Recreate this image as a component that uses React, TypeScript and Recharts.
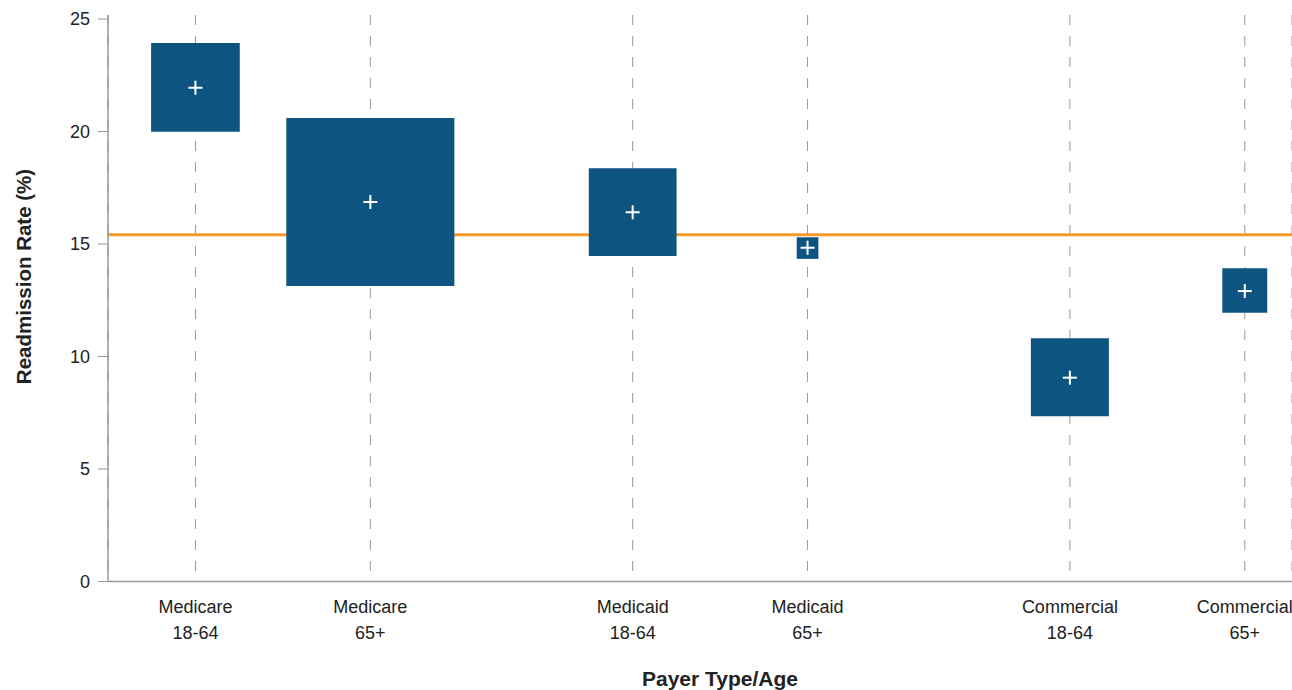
import React from "react";
import {
  ComposedChart, Scatter, XAxis, YAxis, CartesianGrid, ReferenceArea, ReferenceLine, Label
} from "recharts";

const payers = ["Medicare", "Medicare", "Medicaid", "Medicaid", "Commercial", "Commercial"];
const ages = ["18-64", "65+", "18-64", "65+", "18-64", "65+"];
const positions = [1, 2, 3.5, 4.5, 6, 7];
const means = [21.95, 16.87, 16.41, 14.83, 9.06, 12.91];
const lows = [19.99, 13.14, 14.47, 14.34, 7.35, 11.94];
const highs = [23.93, 20.6, 18.37, 15.3, 10.81, 13.92];
const boxWidths = [0.507, 0.961, 0.502, 0.124, 0.446, 0.257];
const overallRate = 15.41;
const yTicks = [0, 5, 10, 15, 20, 25];

const BOX = "#0d5480";
const ORANGE = "#f39a2b";
const FONT = "'Liberation Sans', Arial, Helvetica, sans-serif";

const meanPoints = positions.map((x, i) => ({ x, y: means[i] }));

const PayerTick = (props: any) => {
  const { x, y, payload } = props;
  const i = positions.indexOf(payload.value);
  if (i < 0) return null;
  return (
    <text x={x} y={y} textAnchor="middle" fontSize={18} fill="#222" fontFamily={FONT}>
      <tspan x={x} dy={31.5}>{payers[i]}</tspan>
      <tspan x={x} dy={26}>{ages[i]}</tspan>
    </text>
  );
};

const PlusMark = (props: any) => {
  const { cx, cy } = props;
  return (
    <g>
      <line x1={cx - 7} x2={cx + 7} y1={cy} y2={cy} stroke="#fff" strokeWidth={2} />
      <line x1={cx} x2={cx} y1={cy - 7} y2={cy + 7} stroke="#fff" strokeWidth={2} />
    </g>
  );
};

export default function App() {
  return (
    <div style={{ position: "absolute", left: 0, top: 0, background: "#fff" }}>
      <ComposedChart
        width={1292}
        height={690}
        data={meanPoints}
        margin={{ top: 15, right: 0, bottom: 38.5, left: 0 }}
        style={{ fontFamily: FONT }}
      >
        <CartesianGrid horizontal={false} stroke="#999" strokeDasharray="10 11" />
        <XAxis
          type="number"
          dataKey="x"
          domain={[0.5, 7.27]}
          ticks={positions}
          allowDataOverflow
          height={70}
          tickLine={false}
          tickSize={0}
          tickMargin={0}
          axisLine={{ stroke: "#999", strokeWidth: 1.5 }}
          tick={<PayerTick />}
          interval={0}
        >
          <Label
            content={(p: any) => (
              <text
                x={(p.viewBox?.x ?? 0) + (p.viewBox?.width ?? 0) / 2 + 20}
                y={686}
                textAnchor="middle"
                fontSize={21}
                fontWeight="bold"
                fill="#222"
                fontFamily={FONT}
              >
                Payer Type/Age
              </text>
            )}
          />
        </XAxis>
        <YAxis
          type="number"
          domain={[0, 25.18]}
          ticks={yTicks}
          allowDataOverflow
          width={108}
          tickSize={10}
          tickMargin={8}
          tickLine={{ stroke: "#999" }}
          axisLine={{ stroke: "#999", strokeWidth: 1.5 }}
          tick={{ fontSize: 18, fill: "#222", fontFamily: FONT }}
        >
          <Label
            content={() => (
              <text
                x={31}
                y={276.5}
                transform="rotate(-90 31 276.5)"
                textAnchor="middle"
                fontSize={20.5}
                fontWeight="bold"
                fill="#222"
                fontFamily={FONT}
              >
                Readmission Rate (%)
              </text>
            )}
          />
        </YAxis>
        <ReferenceLine y={overallRate} stroke={ORANGE} strokeWidth={3} zIndex={50} />
        {positions.map((p, i) => (
          <ReferenceArea
            key={i}
            x1={p - boxWidths[i] / 2}
            x2={p + boxWidths[i] / 2}
            y1={lows[i]}
            y2={highs[i]}
            fill={BOX}
            fillOpacity={1}
            stroke="none"
            zIndex={150}
          />
        ))}
        <Scatter dataKey="y" shape={<PlusMark />} isAnimationActive={false} />
      </ComposedChart>
    </div>
  );
}
